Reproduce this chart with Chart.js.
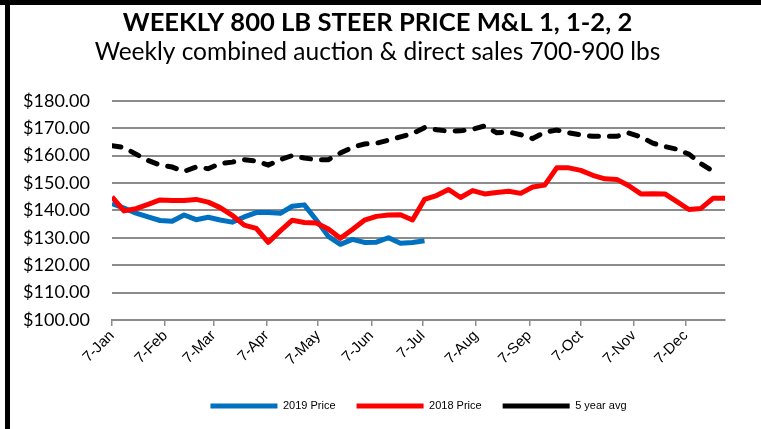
<!DOCTYPE html>
<html>
<head>
<meta charset="utf-8">
<script src="https://cdn.jsdelivr.net/npm/chart.js@4.4.1/dist/chart.umd.min.js"></script>
<style>
  html, body { margin: 0; padding: 0; background: #fff; }
  #wrap { position: relative; width: 761px; height: 429px; overflow: hidden; }
  #wrap canvas { position: absolute; left: 0; top: 0; }
  .edge { position: absolute; background: #000; }
  .edge.top { left: 0; top: 0; width: 761px; height: 5px; }
  .edge.left { left: 5px; top: 0; width: 5px; height: 429px; }
</style>
</head>
<body>
<div id="wrap">
  <canvas id="steerChart" width="761" height="429"></canvas>
  <div class="edge top"></div>
  <div class="edge left"></div>
</div>
<script>
// days after 7-Jan where the month ticks sit
const tickDays = [0, 31, 59, 90, 120, 151, 181, 212, 243, 273, 304, 334];
const tickLabels = ['7-Jan', '7-Feb', '7-Mar', '7-Apr', '7-May', '7-Jun', '7-Jul', '7-Aug', '7-Sep', '7-Oct', '7-Nov', '7-Dec'];

// weekly prices, $/cwt
const price2019 = [142.5, 140.8, 139.0, 137.6, 136.3, 136.0, 138.3, 136.6, 137.5, 136.5,
    135.7, 137.6, 139.2, 139.2, 138.9, 141.5, 142.0, 136.5, 130.5, 127.6,
    129.4, 128.3, 128.4, 130.0, 128.0, 128.3, 128.9];
const price2018 = [144.9, 139.8, 140.6, 142.2, 143.8, 143.6, 143.6, 144.0, 143.0, 141.0,
    138.2, 134.6, 133.4, 128.3, 132.5, 136.4, 135.6, 135.4, 133.2, 129.8,
    133.0, 136.4, 137.8, 138.3, 138.4, 136.5, 144.0, 145.4, 147.6, 144.7,
    147.2, 146.0, 146.5, 147.0, 146.2, 148.5, 149.2, 155.5, 155.5, 154.6,
    152.8, 151.5, 151.3, 149.0, 146.0, 146.1, 146.0, 143.2, 140.3, 140.7,
    144.4, 144.4];
const avg5yr = [163.6, 162.9, 160.5, 158.2, 156.5, 155.8, 154.2, 155.8, 155.2, 157.1,
    157.6, 158.5, 158.0, 156.5, 158.5, 160.0, 159.1, 158.5, 158.5, 160.9,
    163.0, 164.2, 164.5, 165.6, 166.8, 168.0, 170.2, 169.4, 168.9, 169.0,
    169.6, 170.8, 168.3, 168.6, 167.6, 166.2, 168.5, 169.3, 168.3, 167.5,
    167.0, 167.0, 167.0, 168.2, 166.8, 164.5, 163.3, 162.3, 160.5, 157.0,
    154.3];

const sans = "'Liberation Sans', Arial, sans-serif";
const gridGrey = '#8c8c8c';

function weekly(values) {
    return values.map((v, i) => ({ x: i * 7, y: v }));
}

new Chart(document.getElementById('steerChart').getContext('2d'), {
    type: 'line',
    data: {
        datasets: [{
            label: '2019 Price',
            data: weekly(price2019),
            borderColor: '#0070C0',
            backgroundColor: '#0070C0',
            borderWidth: 5,
            borderJoinStyle: 'round',
            pointRadius: 0,
            order: 3
        }, {
            label: '2018 Price',
            data: weekly(price2018),
            borderColor: '#FF0000',
            backgroundColor: '#FF0000',
            borderWidth: 5,
            borderJoinStyle: 'round',
            pointRadius: 0,
            order: 2
        }, {
            label: '5 year avg',
            data: weekly(avg5yr),
            borderColor: '#000000',
            backgroundColor: '#000000',
            borderWidth: 5,
            borderDash: [9, 11],
            borderCapStyle: 'round',
            pointRadius: 0,
            order: 1
        }]
    },
    options: {
        responsive: false,
        animation: false,
        layout: { padding: { top: 0, left: 0, right: 6, bottom: 7.5 } },
        plugins: {
            title: {
                display: true,
                text: 'WEEKLY 800 LB STEER PRICE M&L 1, 1-2, 2',
                color: '#000',
                font: { family: 'Lato', weight: 'bold', size: 25.6 },
                padding: { top: 7, bottom: 0 }
            },
            subtitle: {
                display: true,
                text: 'Weekly combined auction & direct sales 700-900 lbs',
                color: '#000',
                font: { family: 'Lato', size: 24.5 },
                padding: { top: 0, bottom: 33.6 }
            },
            legend: {
                position: 'bottom',
                fullSize: false,
                labels: {
                    usePointStyle: true,
                    pointStyle: 'line',
                    pointStyleWidth: 67,
                    color: '#000',
                    font: { family: sans, size: 11 },
                    padding: 21,
                    sort: (a, b) => a.datasetIndex - b.datasetIndex
                }
            },
            tooltip: { enabled: false }
        },
        scales: {
            x: {
                type: 'linear',
                min: 0,
                max: 357,
                afterBuildTicks: s => { s.ticks = tickDays.map(v => ({ value: v })); },
                afterFit: s => { s.height = 59.5; },
                ticks: {
                    autoSkip: false,
                    minRotation: 45,
                    maxRotation: 45,
                    padding: 1,
                    color: '#000',
                    font: { family: sans, size: 15 },
                    callback: v => tickLabels[tickDays.indexOf(v)]
                },
                grid: { drawOnChartArea: false, drawTicks: true, tickLength: 6, color: gridGrey, lineWidth: 1.5 },
                border: { display: true, color: gridGrey, width: 2 }
            },
            y: {
                min: 100,
                max: 180,
                afterFit: s => { s.width = 112; },
                ticks: {
                    stepSize: 10,
                    padding: 22,
                    color: '#000',
                    font: { family: 'Lato', size: 18 },
                    callback: v => '$' + v.toFixed(2)
                },
                grid: { color: gridGrey, lineWidth: 2, drawTicks: false },
                border: { display: false }
            },
            yPad: {
                position: 'right',
                display: true,
                afterFit: s => { s.width = 30; },
                ticks: { display: false },
                grid: { display: false },
                border: { display: false }
            }
        }
    }
});
</script>
</body>
</html>
